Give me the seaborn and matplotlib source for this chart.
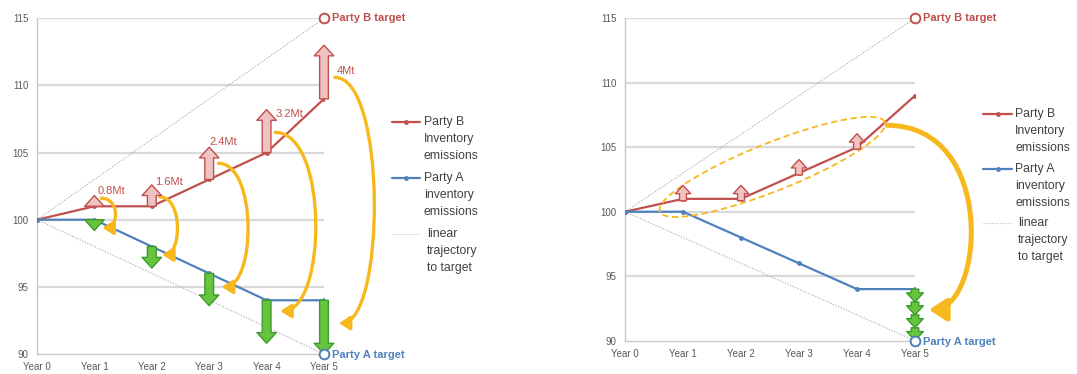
import numpy as np
import pandas as pd
import matplotlib
matplotlib.use("Agg")
import matplotlib.pyplot as plt
import seaborn as sns
from matplotlib.patches import FancyArrowPatch, ArrowStyle
from matplotlib.path import Path
from matplotlib.lines import Line2D

# ---------------- data ----------------
years = ["Year 0", "Year 1", "Year 2", "Year 3", "Year 4", "Year 5"]
party_b = [100, 101, 101, 103, 105, 109]
party_a = [100, 100, 98, 96, 94, 94]
base_value = 100
party_b_target = 115
party_a_target = 90
transfer_mt = [0.8, 1.6, 2.4, 3.2, 4.0]          # left panel, years 1-5
transfer_labels = ["0.8Mt", "1.6Mt", "2.4Mt", "3.2Mt", "4Mt"]
annual_mt = [0.8, 0.8, 0.8, 0.8]                 # right panel, years 1-4
stacked_mt = [1.0, 1.0, 1.0, 1.0]                # right panel, year 5 stack
y_ticks = [90, 95, 100, 105, 110, 115]

RED = "#C0504D"
BLUE = "#4F81BD"
GREEN_FC = "#66C43F"
GREEN_EC = "#3E9B2C"
PINK_FC = "#F0C2C2"
YELLOW = "#F7B81E"
GRID = "#D9D9D9"
TXT = "#404040"

sns.set_theme(style="white")
plt.rcParams["font.family"] = ["Liberation Sans", "DejaVu Sans"]

W, H = 1077, 374
fig = plt.figure(figsize=(W / 100, H / 100), dpi=100)
fig.patch.set_facecolor("white")


def px_ax(x0, y0, x1, y1):
    return fig.add_axes([x0 / W, 1 - y1 / H, (x1 - x0) / W, (y1 - y0) / H])


axL = px_ax(37, 18.3, 324, 354)
axR = px_ax(625, 18.3, 915, 340.7)

xs = list(range(len(years)))
df = pd.DataFrame({
    "x": xs * 2,
    "value": party_b + party_a,
    "series": ["Party B"] * len(xs) + ["Party A"] * len(xs),
})
lin = pd.DataFrame({
    "x": [0, 5, 0, 5],
    "value": [base_value, party_b_target, base_value, party_a_target],
    "series": ["B", "B", "A", "A"],
})


def setup(ax):
    ax.set_xlim(0, 5)
    ax.set_ylim(90, 115)
    ax.set_yticks(y_ticks)
    ax.set_yticklabels([str(t) for t in y_ticks], fontsize=7, color="#595959")
    ax.set_xticks(xs)
    ax.set_xticklabels(years, fontsize=7, color="#595959")
    for t in y_ticks[1:]:
        ax.axhline(t, color=GRID, lw=1.6, zorder=0)
    for s in ["top", "right"]:
        ax.spines[s].set_visible(False)
    for s in ["left", "bottom"]:
        ax.spines[s].set_color("#C8C8C8")
        ax.spines[s].set_linewidth(1.0)
    ax.tick_params(axis="both", length=2.5, width=0.8, color="#C8C8C8", pad=3.5)
    ax.grid(False)
    # trajectories
    for s in ["B", "A"]:
        sns.lineplot(data=lin[lin.series == s], x="x", y="value", ax=ax,
                     color="#A6A6A6", lw=0.8, linestyle=(0, (1, 1.5)), zorder=1)
    sns.lineplot(data=df, x="x", y="value", hue="series",
                 palette={"Party B": RED, "Party A": BLUE}, ax=ax,
                 marker="o", markersize=3.5, markeredgewidth=0, lw=1.6,
                 legend=False, zorder=3, estimator=None)
    ax.set_xlabel("")
    ax.set_ylabel("")
    # targets
    ax.plot([5], [party_b_target], marker="o", ms=7, mfc="white", mec=RED,
            mew=1.4, clip_on=False, zorder=6)
    ax.plot([5], [party_a_target], marker="o", ms=7, mfc="white", mec=BLUE,
            mew=1.4, clip_on=False, zorder=6)
    ax.annotate("Party B target", (5, party_b_target), xytext=(5.5, 0),
                textcoords="offset points", va="center", ha="left",
                fontsize=8, color=RED, fontweight="bold", annotation_clip=False)
    ax.annotate("Party A target", (5, party_a_target), xytext=(6, -1),
                textcoords="offset points", va="center", ha="left",
                fontsize=8, color=BLUE, fontweight="bold", annotation_clip=False)


def block_arrow(ax, x, y0, y1, fc, ec, scale=14, z=5):
    a = FancyArrowPatch((x, y0), (x, y1),
                        arrowstyle=ArrowStyle.Simple(head_length=0.55, head_width=1.0,
                                                     tail_width=0.45),
                        mutation_scale=scale, fc=fc, ec=ec, lw=1.0,
                        shrinkA=0, shrinkB=0, zorder=z, clip_on=False)
    ax.add_patch(a)


def curved(ax, xs_, ys_, xe, ye, bulge, lw=2.2, scale=12, z=4):
    k = 4.0 / 3.0
    verts = [(xs_, ys_), (xs_ + k * (bulge - xs_), ys_),
             (xe + k * (bulge - xe), ye), (xe, ye)]
    p = Path(verts, [Path.MOVETO, Path.CURVE4, Path.CURVE4, Path.CURVE4])
    a = FancyArrowPatch(path=p, arrowstyle=ArrowStyle("-|>", head_length=0.7, head_width=0.45),
                        mutation_scale=scale, color=YELLOW, lw=lw, zorder=z,
                        clip_on=False, transform=ax.transData)
    ax.add_patch(a)


setup(axL)
setup(axR)

# ---------- left panel annotations ----------
label_pos = [(1.06, 102.15), (2.06, 102.8), (3.0, 105.8), (4.15, 107.9), (5.22, 111.1)]
arcs = [
    (1.12, 101.6, 1.14, 99.4, 1.36),
    (2.14, 101.7, 2.18, 97.4, 2.44),
    (3.16, 104.2, 3.22, 95.0, 3.67),
    (4.15, 106.5, 4.24, 93.2, 4.85),
    (5.19, 110.6, 5.26, 92.3, 5.87),
]
for i, d in enumerate(transfer_mt, start=1):
    block_arrow(axL, i, party_b[i], party_b[i] + d, PINK_FC, RED)
    block_arrow(axL, i, party_a[i], party_a[i] - d, GREEN_FC, GREEN_EC)
    lx, ly = label_pos[i - 1]
    axL.text(lx, ly, transfer_labels[i - 1], fontsize=8, color=RED,
             ha="left", va="center", clip_on=False, zorder=7)
for a in arcs:
    curved(axL, *a, lw=2.4, scale=9)

# ---------- right panel annotations ----------
for i, d in enumerate(annual_mt, start=1):
    block_arrow(axR, i, party_b[i] - 0.15, party_b[i] - 0.15 + d * 1.5,
                PINK_FC, RED, scale=11)
y = party_a[5]
for d in stacked_mt:
    block_arrow(axR, 5, y, y - d, GREEN_FC, GREEN_EC, scale=12)
    y -= d

# dashed ellipse around Party B's small transfers
p_left = axR.transData.transform((0.6, 100.0))
p_right = axR.transData.transform((4.48, 106.95))
c = (p_left + p_right) / 2
u = (p_right - p_left) / 2
v = np.array([-u[1], u[0]]) / np.hypot(*u) * 24
t = np.linspace(0, 2 * np.pi, 200)
pts = c + np.outer(np.cos(t), u) + np.outer(np.sin(t), v)
pts = axR.transData.inverted().transform(pts)
axR.plot(pts[:, 0], pts[:, 1], color=YELLOW, lw=1.3, ls=(0, (3.5, 2)),
         zorder=4, clip_on=False)

# big curved arrow
curved(axR, 4.52, 106.7, 5.24, 92.4, 5.95, lw=3.6, scale=15)

# ---------- legends (drawn manually, Excel style) ----------
def legend(x_line0, x_line1, x_text, entries):
    for (kind, color, lines, y0) in entries:
        fy = 1 - y0 / H
        if kind == "line":
            fig.add_artist(Line2D([x_line0 / W, x_line1 / W], [fy, fy],
                                  color=color, lw=1.6, transform=fig.transFigure))
            fig.add_artist(Line2D([(x_line0 + x_line1) / 2 / W], [fy], marker="o",
                                  ms=3.5, color=color, mew=0,
                                  transform=fig.transFigure))
            xt = x_text
        else:
            fig.add_artist(Line2D([x_line0 / W, x_line1 / W], [fy, fy],
                                  color="#BFBFBF", lw=0.8, ls=(0, (1, 1.5)),
                                  transform=fig.transFigure))
            xt = x_text + 3
        for j, s in enumerate(lines):
            fig.text(xt / W, 1 - (y0 + j * 16.8) / H, s, fontsize=8.8,
                     color=TXT, ha="left", va="center")


legend(392, 420, 424, [
    ("line", RED, ["Party B", "Inventory", "emissions"], 122),
    ("line", BLUE, ["Party A", "inventory", "emissions"], 178),
    ("dot", None, ["linear", "trajectory", "to target"], 234),
])
legend(983, 1012, 1015, [
    ("line", RED, ["Party B", "Inventory", "emissions"], 114),
    ("line", BLUE, ["Party A", "inventory", "emissions"], 169),
    ("dot", None, ["linear", "trajectory", "to target"], 223),
])

fig.savefig("out.png", dpi=100, facecolor="white")
